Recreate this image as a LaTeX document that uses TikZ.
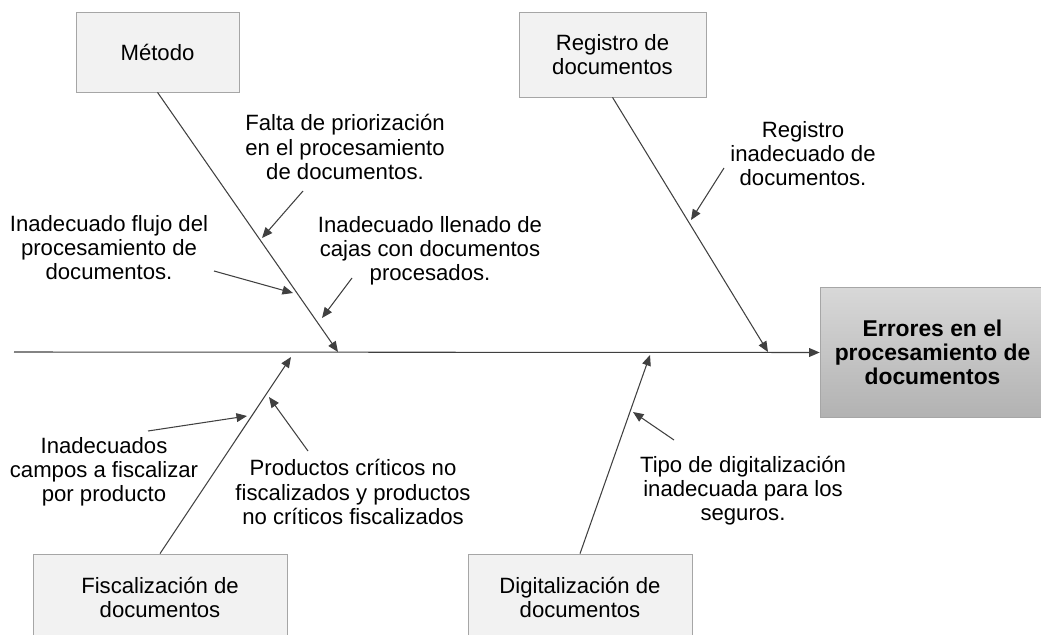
\documentclass[tikz,border=0pt]{standalone}
\usepackage{fontspec}
\setmainfont{Liberation Sans}
\usetikzlibrary{arrows.meta}
\definecolor{boxgray}{HTML}{F2F2F2}
\definecolor{boxline}{HTML}{A6A6A6}
\definecolor{headtop}{HTML}{D8D8D8}
\definecolor{headbot}{HTML}{B2B2B2}
\definecolor{linegray}{HTML}{404040}

\begin{document}
\begin{tikzpicture}[x=0.02cm,y=-0.02cm,
    cause/.style={draw=boxline,fill=boxgray,align=center,font=\fontsize{12.6}{13.7}\selectfont},
    subcause/.style={align=center,font=\fontsize{12.6}{13.7}\selectfont},
    bone/.style={draw=linegray,line width=0.6pt,-{Triangle[length=6pt,width=5pt]}}]

      \useasboundingbox (0,0) rectangle (1041,635);

      \begin{scope}
        \node[cause,minimum width=3.26cm,minimum height=1.6cm]  (metodo)   at (157.5,52)  {Método};
        \node[cause,minimum width=3.74cm,minimum height=1.7cm]  (registro) at (612.5,54.5) {Registro de\\documentos};
        \node[cause,minimum width=5.08cm,minimum height=1.72cm] (fiscal)   at (160,597)   {Fiscalización de\\documentos};
        \node[cause,minimum width=4.48cm,minimum height=1.72cm] (digital)  at (580,597)   {Digitalización de\\documentos};
        \node[draw=boxline,top color=headtop,bottom color=headbot,align=center,
              font=\fontsize{13}{13.7}\selectfont\bfseries,
              minimum width=4.5cm,minimum height=2.6cm] (errores) at (932.5,352.5)
              {Errores en el\\procesamiento de\\documentos};
      \end{scope}

      \begin{scope}
        \node[subcause] (falta)    at (345,147) {Falta de priorización\\en el procesamiento\\de documentos.};
        \node[subcause] (flujo)    at (109,248) {Inadecuado flujo del\\procesamiento de\\documentos.};
        \node[subcause] (llenado)  at (430,251) {Inadecuado llenado de\\cajas con documentos\\procesados.};
        \node[subcause] (reginad)  at (803,154) {Registro\\inadecuado de\\documentos.};
        \node[subcause] (campos)   at (104,472) {Inadecuados\\campos a fiscalizar\\por producto};
        \node[subcause] (criticos) at (353,492) {Productos críticos no\\fiscalizados y productos\\no críticos fiscalizados};
        \node[subcause] (tipo)     at (743,491) {Tipo de digitalización\\inadecuada para los\\seguros.};
      \end{scope}

      % espina y huesos
      \coordinate (cola) at (14,352);
      \coordinate (m) at (338,352);
      \coordinate (r) at (768,352);
      \coordinate (f) at (291,357);
      \coordinate (d) at (650,355);

      \path (cola)           edge[bone] (errores.west);
      \path (metodo.south)   edge[bone] (m);
      \path (registro.south) edge[bone] (r);
      \path (fiscal.north)   edge[bone] (f);
      \path (digital.north)  edge[bone] (d);

      % flechas de las subcausas
      \coordinate (falta-a)    at (303,191); \coordinate (falta-b)    at (262,238);
      \coordinate (flujo-a)    at (214,271); \coordinate (flujo-b)    at (293,293);
      \coordinate (llenado-a)  at (352,278); \coordinate (llenado-b)  at (322,318);
      \coordinate (reginad-a)  at (724,168); \coordinate (reginad-b)  at (691,220);
      \coordinate (campos-a)   at (148,431); \coordinate (campos-b)   at (247,416);
      \coordinate (criticos-a) at (308,451); \coordinate (criticos-b) at (269,397);
      \coordinate (tipo-a)     at (674,440); \coordinate (tipo-b)     at (633,412);

      \path (falta-a)    edge[bone] (falta-b);
      \path (flujo-a)    edge[bone] (flujo-b);
      \path (llenado-a)  edge[bone] (llenado-b);
      \path (reginad-a)  edge[bone] (reginad-b);
      \path (campos-a)   edge[bone] (campos-b);
      \path (criticos-a) edge[bone] (criticos-b);
      \path (tipo-a)     edge[bone] (tipo-b);

    \end{tikzpicture}
\end{document}
